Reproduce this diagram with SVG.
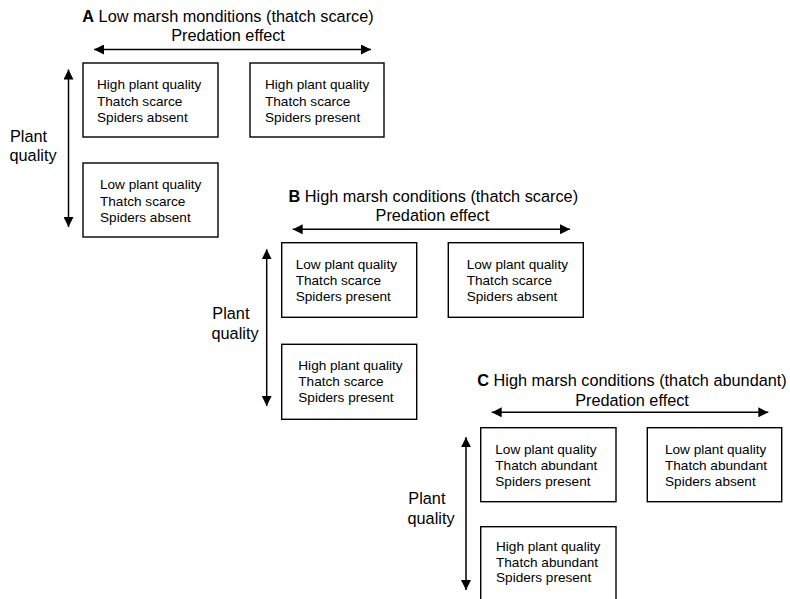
<svg xmlns="http://www.w3.org/2000/svg" width="790" height="599" viewBox="0 0 790 599">
<defs>
<marker id="ah" viewBox="0 0 10 10" refX="10" refY="5" markerWidth="10" markerHeight="10" markerUnits="userSpaceOnUse" orient="auto-start-reverse">
<path d="M0,0 L10,5 L0,10 z" fill="#000"/>
</marker>
<style>
text{font-family:"Liberation Sans",Arial,sans-serif;fill:#000}
.t{font-size:16.3px;text-anchor:middle}
.ax{font-size:16.3px}
.bx{font-size:13.6px}
.b{font-weight:bold}
rect{fill:#fff;stroke:#000;stroke-width:1.4}
.arr{stroke:#000;stroke-width:1.5;fill:none;marker-start:url(#ah);marker-end:url(#ah)}
</style>
</defs>
<rect x="0" y="0" width="790" height="599" style="stroke:none;fill:#fff"/>

<!-- Panel A -->
<g id="panelA-labels">
<text class="t" x="228" y="22"><tspan class="b">A</tspan> Low marsh monditions (thatch scarce)</text>
<text class="t" x="228" y="40.5">Predation effect</text>
<text class="ax" x="10" y="142">Plant</text>
<text class="ax" x="9.5" y="161">quality</text>
</g>
<g id="A1"><rect x="83" y="63" width="135" height="74"/>
<text class="bx" x="97" y="89">High plant quality</text><text class="bx" x="97" y="105.5">Thatch scarce</text><text class="bx" x="97" y="121.7">Spiders absent</text></g>
<g id="A2"><rect x="250" y="63" width="134" height="74"/>
<text class="bx" x="265" y="89">High plant quality</text><text class="bx" x="265" y="105.5">Thatch scarce</text><text class="bx" x="265" y="121.7">Spiders present</text></g>
<g id="A3"><rect x="83" y="163" width="135" height="74"/>
<text class="bx" x="100" y="189">Low plant quality</text><text class="bx" x="100" y="205.5">Thatch scarce</text><text class="bx" x="100" y="221.7">Spiders absent</text></g>

<!-- Panel B -->
<g id="panelB-labels">
<text class="t" x="433.3" y="201.5"><tspan class="b">B</tspan> High marsh conditions (thatch scarce)</text>
<text class="t" x="432.4" y="220.5">Predation effect</text>
<text class="ax" x="212.3" y="319">Plant</text>
<text class="ax" x="211.5" y="338.5">quality</text>
</g>
<g id="B1"><rect x="281.7" y="242.7" width="135" height="74.6"/>
<text class="bx" x="295.7" y="268.5">Low plant quality</text><text class="bx" x="295.7" y="285">Thatch scarce</text><text class="bx" x="295.7" y="301">Spiders present</text></g>
<g id="B2"><rect x="448.3" y="242.7" width="135" height="74.6"/>
<text class="bx" x="466.7" y="268.5">Low plant quality</text><text class="bx" x="466.7" y="285">Thatch scarce</text><text class="bx" x="466.7" y="301">Spiders absent</text></g>
<g id="B3"><rect x="281.7" y="344.3" width="135" height="75"/>
<text class="bx" x="298.3" y="370">High plant quality</text><text class="bx" x="298.3" y="386">Thatch scarce</text><text class="bx" x="298.3" y="401.5">Spiders present</text></g>

<!-- Panel C -->
<g id="panelC-labels">
<text class="t" x="632" y="386"><tspan class="b">C</tspan> High marsh conditions (thatch abundant)</text>
<text class="t" x="632" y="405.5">Predation effect</text>
<text class="ax" x="408.3" y="504">Plant</text>
<text class="ax" x="407.5" y="523.5">quality</text>
</g>
<g id="C1"><rect x="480.7" y="427.7" width="135.3" height="74"/>
<text class="bx" x="495.3" y="453.5">Low plant quality</text><text class="bx" x="495.3" y="469.7">Thatch abundant</text><text class="bx" x="495.3" y="486">Spiders present</text></g>
<g id="C2"><rect x="647.3" y="427.7" width="134.4" height="74"/>
<text class="bx" x="665" y="453.5">Low plant quality</text><text class="bx" x="665" y="469.7">Thatch abundant</text><text class="bx" x="665" y="486">Spiders absent</text></g>
<g id="C3"><rect x="480.7" y="526.7" width="135.3" height="90"/>
<text class="bx" x="496" y="551">High plant quality</text><text class="bx" x="496" y="567">Thatch abundant</text><text class="bx" x="496" y="582">Spiders present</text></g>

<!-- Connectors (axis arrows) -->
<g id="connectors">
<line class="arr" x1="94" y1="49.5" x2="371" y2="49.5"/>
<line class="arr" x1="68.5" y1="69.5" x2="68.5" y2="227"/>
<line class="arr" x1="292.7" y1="229.3" x2="570" y2="229.3"/>
<line class="arr" x1="266.7" y1="249.3" x2="266.7" y2="406"/>
<line class="arr" x1="491.7" y1="412.3" x2="768.3" y2="412.3"/>
<line class="arr" x1="466" y1="437.3" x2="466" y2="590"/>
</g>
</svg>
